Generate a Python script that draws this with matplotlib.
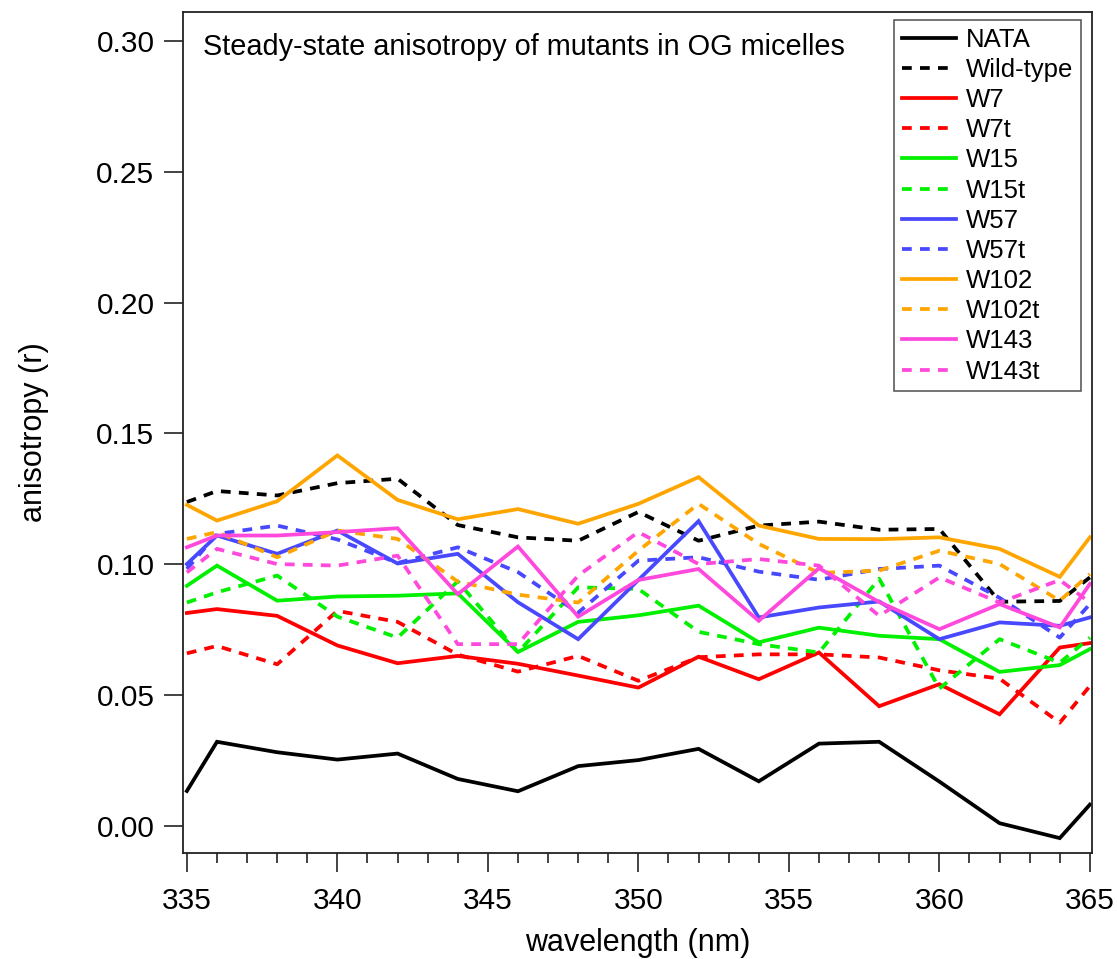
import matplotlib
matplotlib.use("Agg")
import matplotlib.pyplot as plt

plt.rcParams['font.family'] = ['Liberation Sans', 'DejaVu Sans']

# wavelengths (nm)
wavelength = [335, 336, 338, 340, 342, 344, 346, 348, 350, 352, 354, 356, 358, 360, 362, 364, 365]

# steady-state anisotropy values
nata = [0.0134, 0.0322, 0.0282, 0.0254, 0.0277, 0.0180, 0.0133, 0.0229, 0.0252, 0.0295,
        0.0171, 0.0315, 0.0322, 0.0170, 0.0011, -0.0046, 0.0082]
wild_type = [0.1238, 0.1280, 0.1263, 0.1310, 0.1327, 0.1150, 0.1103, 0.1090, 0.1200, 0.1090,
             0.1148, 0.1163, 0.1132, 0.1135, 0.0857, 0.0860, 0.0950]
w7 = [0.0814, 0.0829, 0.0803, 0.0690, 0.0622, 0.0650, 0.0620, 0.0575, 0.0529, 0.0647,
      0.0561, 0.0663, 0.0458, 0.0542, 0.0427, 0.0682, 0.0699]
w7t = [0.0660, 0.0688, 0.0618, 0.0822, 0.0780, 0.0655, 0.0590, 0.0650, 0.0555, 0.0645,
       0.0656, 0.0656, 0.0644, 0.0595, 0.0563, 0.0395, 0.0535]
w15 = [0.0918, 0.0995, 0.0861, 0.0877, 0.0880, 0.0889, 0.0665, 0.0780, 0.0805, 0.0842,
       0.0702, 0.0758, 0.0727, 0.0714, 0.0589, 0.0615, 0.0676]
w15t = [0.0854, 0.0893, 0.0957, 0.0800, 0.0720, 0.0935, 0.0664, 0.0912, 0.0906, 0.0742,
        0.0695, 0.0663, 0.0945, 0.0525, 0.0714, 0.0624, 0.0720]
w57 = [0.1001, 0.1110, 0.1040, 0.1129, 0.1003, 0.1040, 0.0855, 0.0714, 0.0940, 0.1165,
       0.0797, 0.0835, 0.0858, 0.0714, 0.0778, 0.0765, 0.0797]
w57t = [0.0982, 0.1116, 0.1148, 0.1095, 0.1005, 0.1065, 0.0970, 0.0815, 0.1014, 0.1027,
        0.0972, 0.0941, 0.0982, 0.0995, 0.0872, 0.0720, 0.0848]
w102 = [0.1227, 0.1167, 0.1241, 0.1416, 0.1246, 0.1172, 0.1211, 0.1155, 0.1231, 0.1333,
        0.1148, 0.1097, 0.1096, 0.1103, 0.1059, 0.0952, 0.1103]
w102t = [0.1097, 0.1123, 0.1027, 0.1129, 0.1097, 0.0934, 0.0884, 0.0854, 0.1052, 0.1231,
         0.1078, 0.0967, 0.0976, 0.1052, 0.1001, 0.0861, 0.0963]
w143 = [0.1065, 0.1110, 0.1110, 0.1123, 0.1138, 0.0886, 0.1068, 0.0800, 0.0940, 0.0982,
        0.0784, 0.0985, 0.0856, 0.0752, 0.0848, 0.0759, 0.0925]
w143t = [0.0969, 0.1059, 0.1001, 0.0995, 0.1033, 0.0695, 0.0695, 0.0957, 0.1123, 0.1001,
         0.1020, 0.0995, 0.0803, 0.0950, 0.0854, 0.0940, 0.0854]

labels = ["NATA", "Wild-type", "W7", "W7t", "W15", "W15t",
          "W57", "W57t", "W102", "W102t", "W143", "W143t"]
series = [nata, wild_type, w7, w7t, w15, w15t, w57, w57t, w102, w102t, w143, w143t]
colors = ["#000000", "#000000", "#FF0000", "#FF0000", "#00F000", "#00F000",
          "#4848FF", "#4848FF", "#FFA500", "#FFA500", "#FF48DC", "#FF48DC"]

fig = plt.figure(figsize=(11.17, 9.59), dpi=100)
ax = fig.add_axes([0.1638, 0.1105, 0.8138, 0.877])

lw = 2.7
for i, (lab, ys, c) in enumerate(zip(labels, series, colors)):
    if i % 2 == 0:
        ax.plot(wavelength, ys, color=c, lw=lw, label=lab, solid_joinstyle='miter')
    else:
        ax.plot(wavelength, ys, color=c, lw=lw, label=lab, linestyle=(0, (2.6, 2.2)))

ax.set_xlim(334.87, 365.07)
ax.set_ylim(-0.0103, 0.311)

ax.set_xticks([335, 340, 345, 350, 355, 360, 365])
ax.set_xticks(range(335, 366), minor=True)
ax.set_yticks([0.00, 0.05, 0.10, 0.15, 0.20, 0.25, 0.30])
ax.set_yticklabels(["0.00", "0.05", "0.10", "0.15", "0.20", "0.25", "0.30"])

ax.tick_params(axis='both', which='major', direction='out', length=13.5, width=1.2,
               labelsize=21.5, color='#222222')
ax.tick_params(axis='x', which='minor', direction='out', length=7, width=1.2, color='#222222')
ax.tick_params(axis='x', which='major', pad=11)
ax.tick_params(axis='y', which='major', pad=7)

for s in ax.spines.values():
    s.set_linewidth(1.3)
    s.set_color('#222222')

ax.set_xlabel("wavelength (nm)", fontsize=22, labelpad=9)
ax.set_ylabel("anisotropy (r)", fontsize=22, labelpad=34)

ax.text(0.022, 0.958, "Steady-state anisotropy of mutants in OG micelles",
        transform=ax.transAxes, fontsize=20.8, ha='left', va='center')

leg = ax.legend(loc='upper right', bbox_to_anchor=(0.988, 0.9905), fontsize=18.5,
                frameon=True, fancybox=False, edgecolor='#333333',
                handlelength=2.1, handletextpad=0.4, labelspacing=0.24,
                borderpad=0.3, borderaxespad=0.0)
leg.get_frame().set_linewidth(1.2)

fig.savefig("out.png", dpi=100, facecolor='white')
